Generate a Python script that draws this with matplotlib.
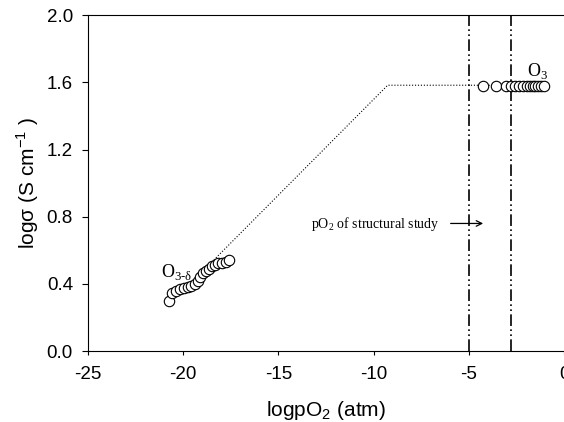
import numpy as np
import matplotlib.pyplot as plt

plt.rcParams['font.family'] = ['Liberation Sans', 'DejaVu Sans']
plt.rcParams['mathtext.fontset'] = 'custom'
plt.rcParams['mathtext.rm'] = 'Liberation Serif'
plt.rcParams['mathtext.sf'] = 'Liberation Sans'
plt.rcParams['axes.unicode_minus'] = False

# low pO2 data (O3-delta)
low_x = [-20.75, -20.59, -20.38, -20.17, -19.96, -19.75, -19.60, -19.39, -19.23,
         -19.12, -18.97, -18.81, -18.65, -18.49, -18.34, -18.18, -17.97, -17.76, -17.60]
low_y = [0.30, 0.345, 0.36, 0.368, 0.375, 0.381, 0.387, 0.399, 0.417,
         0.44, 0.464, 0.476, 0.488, 0.506, 0.512, 0.522, 0.526, 0.532, 0.542]

# high pO2 data (O3)
high_x = [-4.28, -3.59, -3.02, -2.76, -2.55, -2.35, -2.15, -1.95, -1.80,
          -1.65, -1.50, -1.35, -1.20, -1.05]
high_y = [1.58] * len(high_x)

# fitted guide line
fit_x = [-18.5, -9.26, -1.0]
fit_y = [0.53, 1.583, 1.583]

# pO2 range of the structural study
struct_x = [-5.0, -2.8]

fig = plt.figure(figsize=(5.64, 4.22), dpi=100)
ax = fig.add_axes([0.156, 0.168, 0.844, 0.796])

ax.plot(fit_x, fit_y, ':', color='black', lw=0.8)
for xv in struct_x:
    ax.axvline(xv, color='black', lw=1.2, dashes=(7, 2, 1, 2, 1, 2))

ax.plot(low_x, low_y, 'o', mfc='white', mec='black', ms=7.5, mew=0.8)
ax.plot(high_x, high_y, 'o', mfc='white', mec='black', ms=7.5, mew=0.8)

ax.text(-21.15, 0.44, r'O$_{\text{3-δ}}$', family='Liberation Serif', fontsize=13)
ax.text(-1.95, 1.64, r'O$_{\mathrm{3}}$', family='Liberation Serif', fontsize=13)
ax.text(-13.3, 0.73, r'pO$_{\mathrm{2}}$ of structural study', family='Liberation Serif', fontsize=10)
ax.annotate('', xy=(-4.1, 0.76), xytext=(-6.1, 0.76),
            arrowprops=dict(arrowstyle='->', color='black', lw=0.9))

ax.set_xlim(-25, 0)
ax.set_ylim(0, 2.0)
ax.set_xticks([-25, -20, -15, -10, -5, 0])
ax.set_yticks([0.0, 0.4, 0.8, 1.2, 1.6, 2.0])
ax.set_yticklabels(['0.0', '0.4', '0.8', '1.2', '1.6', '2.0'])
ax.tick_params(labelsize=13.5, width=0.8, direction='out', colors='black')
ax.tick_params(axis='x', length=3, pad=8)
ax.tick_params(axis='y', length=4.3, pad=6.5)
ax.spines['right'].set_visible(False)
for s in ['top', 'left', 'bottom']:
    ax.spines[s].set_linewidth(0.8)

ax.set_xlabel(r'logpO$_{\mathsf{2}}$ (atm)', fontsize=15, labelpad=11)
ax.set_ylabel(r'logσ (S cm$^{\mathsf{-1}}$ )', fontsize=15, labelpad=4)

fig.savefig('out.png', dpi=100)
